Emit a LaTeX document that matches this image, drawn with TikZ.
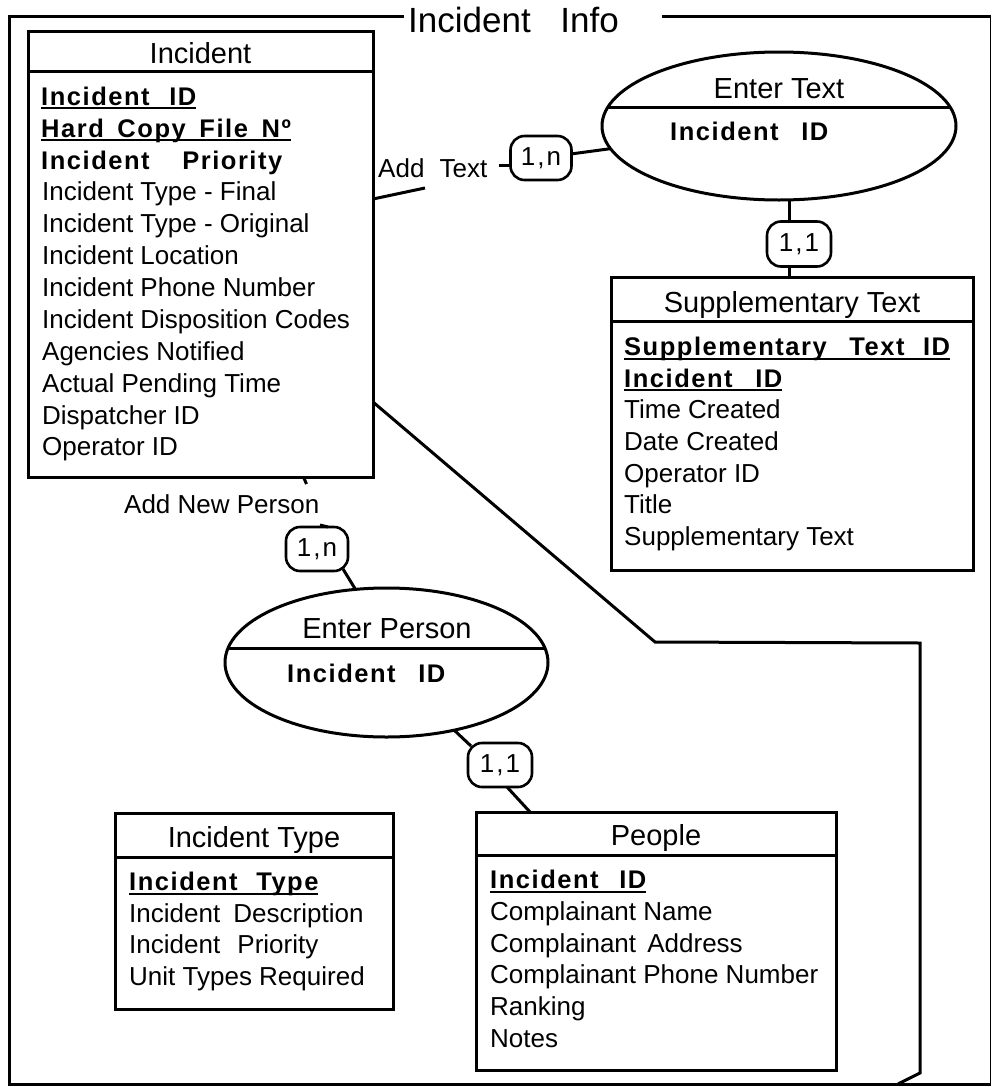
\documentclass[tikz,border=0pt]{standalone}
\usepackage{fontspec}
\setmainfont{Liberation Sans}
\newfontfamily\keyfont[LetterSpace=6]{Liberation Sans}
\usetikzlibrary{shapes.geometric}
\newcommand\bodyfs{\fontsize{26}{30}\selectfont}
\newcommand\titfs{\fontsize{29}{34}\selectfont}
\newcommand\bigfs{\fontsize{35}{40}\selectfont}
\newcommand\keyfs{\keyfont\bfseries\fontsize{25.5}{30}\selectfont}
\newcommand\myul[1]{\setbox0=\hbox{#1}\rlap{\rule[-4pt]{\wd0}{1.8pt}}\box0}
\begin{document}
\begin{tikzpicture}[x=1pt,y=-1pt,
  ent/.style={draw,rectangle,line width=3pt,inner sep=0pt,outer sep=0pt},
  rel/.style={draw,ellipse,line width=3pt,inner sep=0pt,outer sep=0pt},
  card/.style={draw,rectangle,rounded corners=14pt,line width=2.6pt,inner sep=0pt,outer sep=0pt,font=\bodyfs},
  conn/.style={line width=3pt},
  hdiv/.style={line width=3pt},
  outerframe/.style={line width=3pt},
  attr/.style={anchor=base west,inner sep=0pt,font=\bodyfs},
  keyattr/.style={anchor=base west,inner sep=0pt,font=\keyfs},
  enthead/.style={anchor=base,inner sep=0pt,font=\titfs},
  lbl/.style={anchor=base west,inner sep=0pt,font=\bodyfs},
]
\fill[white] (0,0) rectangle (992,1087);
\useasboundingbox (0,0) rectangle (992,1087);

% outer frame
\node[anchor=base west,inner sep=0pt,font=\bigfs] (frametitle) at (408,32) {Incident\hspace{20pt} Info};
\draw[outerframe] (404,16) -- (9,16) -- (9,1084) -- (991,1084);
\draw[outerframe] (662,16) -- (991,16);
\draw[line width=1pt] (990.5,16) -- (990.5,1084);

% Incident
\node[ent,minimum width=345pt,minimum height=446pt] (inc) at (200.5,254) {};
\draw[hdiv] ([yshift=-40pt]inc.north west) -- ([yshift=-40pt]inc.north east);
\node[enthead] (inct) at (200.5,63) {Incident};
\node[keyattr] (inck1) at (41,105) {\myul{Incident\hspace{11pt} ID}};
\node[keyattr] (inck2) at (41,137) {\myul{Hard\hspace{5pt} Copy\hspace{5pt} File\hspace{5pt} Nº}};
\node[keyattr] (inck3) at (41,169) {Incident\hspace{24pt} Priority};
\foreach \t [count=\i from 3] in {Incident Type - Final, Incident Type - Original, Incident Location, Incident Phone Number, Incident Disposition Codes, Agencies Notified, Actual Pending Time, Dispatcher ID, Operator ID}
  \node[attr] (inca\i) at (42,105+31.9*\i) {\t};

% Supplementary Text
\node[ent,minimum width=362pt,minimum height=293pt] (stx) at (792,423.5) {};
\draw[hdiv] ([yshift=-44pt]stx.north west) -- ([yshift=-44pt]stx.north east);
\node[enthead] (stxt) at (792,312) {Supplementary Text};
\node[keyattr] (stxk1) at (624,355.5) {\myul{Supplementary\hspace{14pt} Text\hspace{10pt} ID}};
\node[keyattr] (stxk2) at (624,387) {\myul{Incident\hspace{14pt} ID}};
\foreach \t [count=\i from 2] in {Time Created, Date Created, Operator ID, Title, Supplementary Text}
  \node[attr] (stxa\i) at (624,355.5+31.67*\i) {\t};

% Incident Type
\node[ent,minimum width=278pt,minimum height=196pt] (ityp) at (254,911) {};
\draw[hdiv] ([yshift=-44pt]ityp.north west) -- ([yshift=-44pt]ityp.north east);
\node[enthead] (itypt) at (254,847) {Incident Type};
\node[keyattr] (itypk1) at (129,890.5) {\myul{Incident\hspace{10pt} Type}};
\node[attr] (itypa1) at (129,922.2) {Incident\hspace{6pt} Description};
\node[attr] (itypa2) at (129,953.9) {Incident\hspace{10pt} Priority};
\node[attr] (itypa3) at (129,985.6) {Unit Types Required};

% People
\node[ent,minimum width=360pt,minimum height=258pt] (pp) at (656,941) {};
\draw[hdiv] ([yshift=-43pt]pp.north west) -- ([yshift=-43pt]pp.north east);
\node[enthead] (ppt) at (656,845) {People};
\node[keyattr] (ppk1) at (490,888.5) {\myul{Incident\hspace{12pt} ID}};
\foreach \t [count=\i from 1] in {Complainant Name, Complainant\hspace{4pt} Address, Complainant Phone Number, Ranking, Notes}
  \node[attr] (ppa\i) at (490,888.5+31.8*\i) {\t};

% Enter Text
\node[rel,minimum width=354pt,minimum height=148pt] (et) at (779,126) {};
\draw[hdiv] (et.174) -- (et.6);
\node[enthead] (ett) at (779,98) {Enter Text};
\node[keyattr] (etk) at (670,140) {Incident\hspace{14pt} ID};

% Enter Person
\node[rel,minimum width=323pt,minimum height=149pt] (ep) at (386.5,662.5) {};
\draw[hdiv] (ep.175) -- (ep.5);
\node[enthead] (ept) at (387,638) {Enter Person};
\node[keyattr] (epk) at (287,682) {Incident\hspace{14pt} ID};

% cardinalities
\node[card,minimum width=61pt,minimum height=44pt] (p1) at (541,158) {1\hspace{2pt},\hspace{2pt}n};
\node[card,minimum width=64pt,minimum height=45pt] (p2) at (799,244) {1\hspace{2pt},\hspace{2pt}1};
\node[card,minimum width=62pt,minimum height=44pt] (p3) at (317,549) {1\hspace{2pt},\hspace{2pt}n};
\node[card,minimum width=64pt,minimum height=44pt] (p4) at (500,765) {1\hspace{2pt},\hspace{2pt}1};

% labels
\node[lbl] (addtext) at (378,177) {Add\hspace{8pt} Text};
\node[lbl] (addperson) at (124,513) {Add New Person};

% connectors
\coordinate (addtextend) at (425,188);
\draw[conn] ([yshift=55pt]inc.east) -- (addtextend);
\draw[conn] ([xshift=11pt,yshift=12pt]addtext.base east) -- ([yshift=-7pt]p1.west);
\draw[conn] (p1) -- (et);
\draw[conn] ([xshift=-10pt]p2.north) -- ([xshift=-10pt]p2.north |- et.south);
\draw[conn] ([xshift=-10pt]p2.south) -- ([xshift=-10pt]p2.south |- stx.north);

\coordinate (bendA) at (655,642);
\coordinate (bendB) at (920,643);
\coordinate (bendC) at (920,1073);
\coordinate (bendD) at (898,1084);
\draw[conn,line join=miter] ([yshift=-148pt]inc.east) -- (bendA) -- (bendB) -- (bendC) -- (bendD);

\draw[conn] ([xshift=103pt]inc.south) -- ++(3,7);
\draw[conn] ([xshift=3pt,yshift=2pt]p3.north) -- ([xshift=11pt]p3.north);
\draw[conn] ([xshift=26pt,yshift=2pt]p3.south) -- (ep.113);
\draw[conn] (ep.-45) -- ([xshift=3pt,yshift=-3pt]p4.north west);
\draw[conn] ([xshift=7pt]p4.south) -- ([xshift=-126pt]pp.north);
\end{tikzpicture}
\end{document}
